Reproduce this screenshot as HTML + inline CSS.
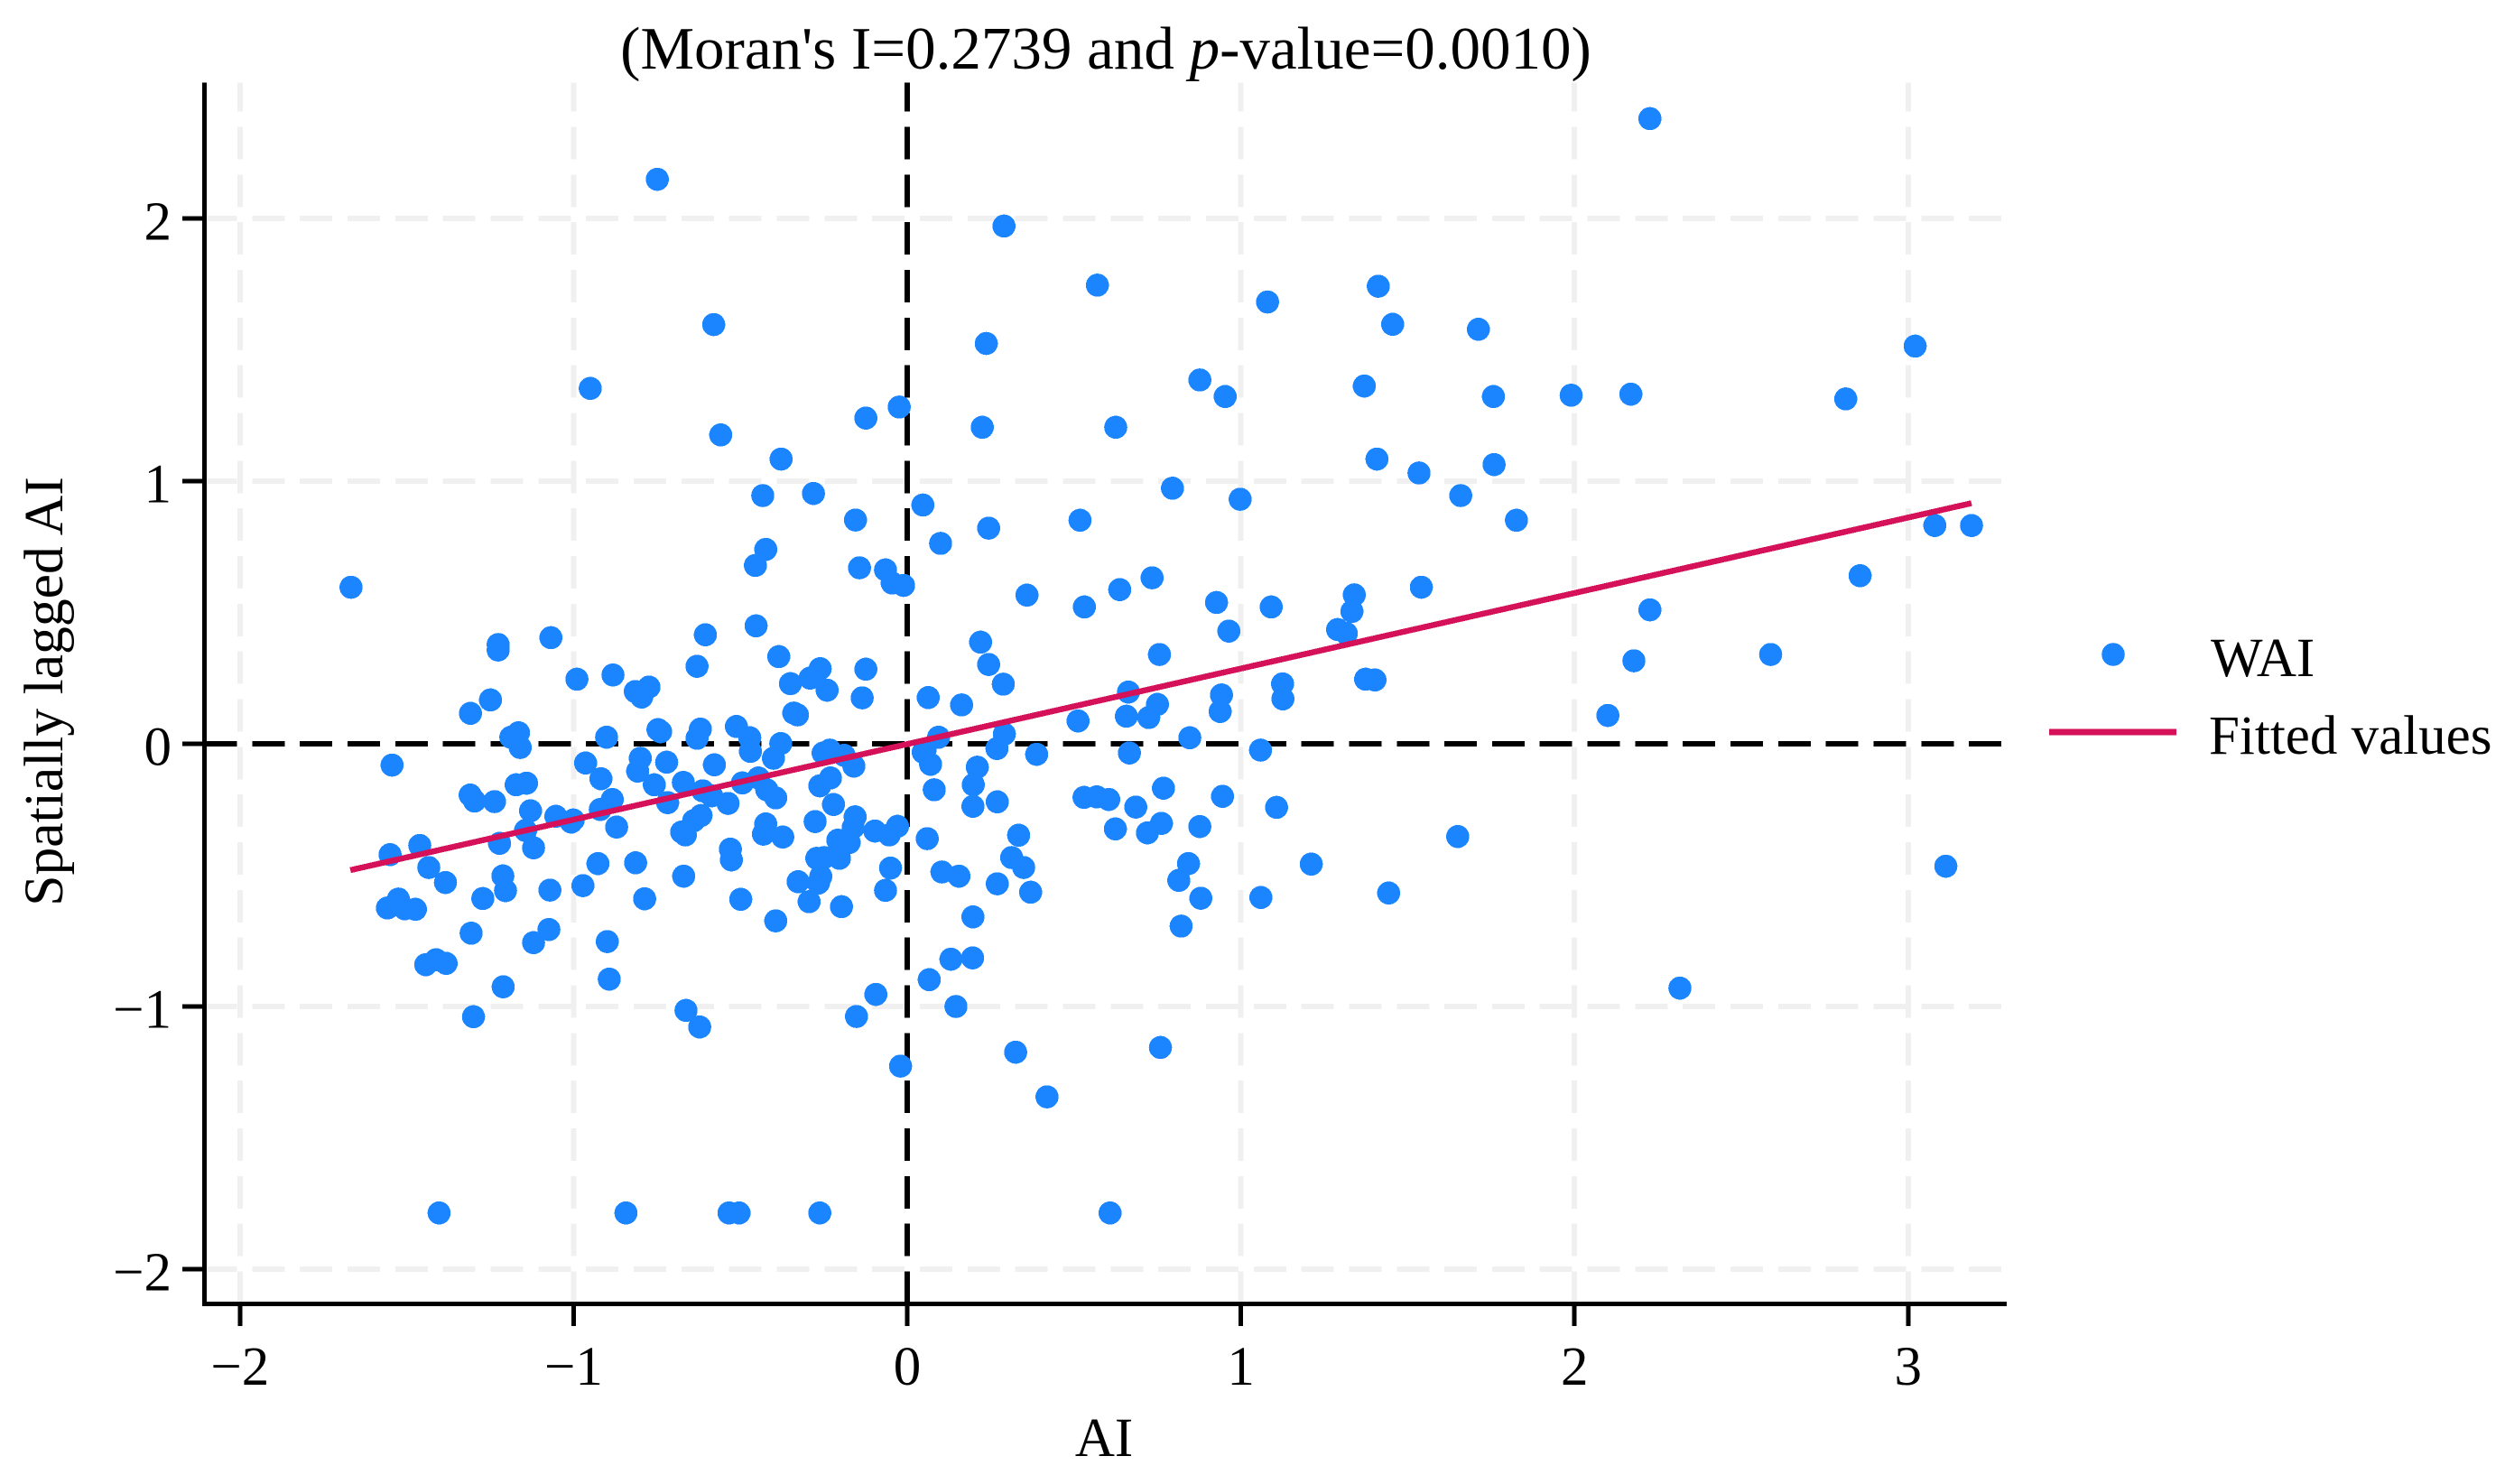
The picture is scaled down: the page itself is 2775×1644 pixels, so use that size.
<!DOCTYPE html>
<html lang="en">
<head>
<meta charset="utf-8">
<title>Moran scatter plot</title>
<style>
  html, body { margin: 0; padding: 0; background: #fff; }
  svg { display: block; font-family: "Liberation Serif", "Times New Roman", serif; }
  text { fill: #000; font-size: 61px; }
  line, circle { shape-rendering: crispEdges; }
</style>
</head>
<body>
<svg id="chart" xmlns="http://www.w3.org/2000/svg" width="2775" height="1644" viewBox="0 0 2775 1644">
  <rect width="2775" height="1644" fill="#fff"/>
  <g id="grid"></g>
  <g id="refs"></g>
  <g id="points"></g>
  <g id="fit"></g>
  <g id="axes"></g>
  <text x="1225" y="76" text-anchor="middle" style="font-size:67px">(Moran's I=0.2739 and <tspan font-style="italic">p</tspan>-value=0.0010)</text>
  <text x="1223" y="1613" text-anchor="middle">AI</text>
  <text transform="translate(69 766) rotate(-90)" text-anchor="middle" style="font-size:61.6px">Spatially lagged AI</text>
  <g>
    <circle cx="2341" cy="725" r="12.8" fill="#1A85FF"/>
    <text x="2449" y="749">WAI</text>
    <line x1="2270" x2="2411" y1="811" y2="811" stroke="#D41159" stroke-width="7"/>
    <text x="2447" y="835">Fitted values</text>
  </g>
</svg>
<script>
const xTicks = [-2, -1, 0, 1, 2, 3];
const yTicks = [-2, -1, 0, 1, 2];
const xTickLabels = ["\u22122", "\u22121", "0", "1", "2", "3"];
const yTickLabels = ["\u22122", "\u22121", "0", "1", "2"];
const fitX = [-1.669, 3.190];
const fitY = [-0.481, 0.916];
const aiValues = [
-1.667,-1.226,-1.226,-1.068,-0.990,-0.882,-0.774,-0.815,-0.796,-0.605,-0.630,-1.249,-1.309,-0.747,-0.739,-0.901,-0.620,-0.630,-1.165,-1.188,
-1.160,-1.544,-0.964,-0.800,-0.808,-0.721,-0.918,-0.758,-0.671,-0.613,-1.172,-1.141,-1.310,-1.297,-1.237,-0.884,-0.920,-0.718,-1.129,-1.053,
-1.001,-1.007,-0.871,-0.618,-0.640,-0.676,-0.665,-1.144,-1.222,-1.120,-1.461,-1.550,-1.434,-1.384,-1.212,-1.204,-1.272,-1.071,-0.972,-0.927,
-0.814,-0.787,-0.670,-1.525,-1.558,-1.506,-1.474,-1.307,-1.074,-1.120,-0.899,-0.893,-1.412,-1.443,-1.382,-1.211,-1.300,-1.403,-0.843,-0.663,
-0.622,0.359,-0.453,-0.385,-0.350,-0.291,-0.261,-0.240,-0.124,-0.135,0.063,0.163,0.220,0.244,0.288,-0.340,-0.329,-0.512,-0.472,-0.470,
-0.379,-0.401,-0.578,-0.252,-0.232,-0.189,-0.160,-0.230,-0.262,0.094,0.048,0.070,0.054,0.291,0.269,0.388,0.210,0.198,0.197,0.081,
0.270,-0.494,-0.446,-0.421,-0.394,-0.586,-0.537,-0.221,-0.276,-0.156,-0.162,-0.097,-0.054,-0.029,-0.424,-0.431,-0.373,-0.530,-0.527,-0.208,
-0.174,-0.203,-0.271,-0.249,0.060,-0.050,-0.065,-0.327,-0.259,-0.266,-0.294,-0.197,-0.499,-0.394,0.197,0.104,0.155,0.334,0.313,0.349,
0.270,0.370,0.131,0.196,0.066,-0.094,-0.152,0.146,-0.020,0.325,0.419,-0.534,-0.504,-0.262,0.531,0.637,0.734,0.927,0.964,1.091,
1.340,1.333,1.290,1.316,0.756,0.663,0.750,0.724,0.657,0.512,0.942,0.938,1.125,1.126,1.374,1.402,0.847,0.666,1.059,0.768,
0.945,0.530,0.568,0.604,0.685,1.107,0.624,0.762,0.720,0.877,1.211,0.843,0.814,0.880,1.060,1.443,0.821,0.759,0.608,-0.749,
-0.580,-0.950,-0.559,-0.124,-0.024,-0.378,-0.433,-0.281,-0.155,-0.424,-0.455,-0.143,-0.065,-0.045,-0.011,2.226,0.290,0.570,1.412,1.080,
1.455,1.712,0.237,0.877,0.953,1.370,1.757,1.990,2.169,0.225,0.625,1.408,1.534,1.759,1.659,1.826,0.795,0.998,0.047,0.100,
0.244,0.518,2.226,2.178,2.588,2.100,1.541,3.021,2.813,2.856,3.080,3.190,3.113,1.650,2.316
];
const laggedValues = [
0.596,0.378,0.357,0.404,0.246,0.262,0.216,0.199,0.178,0.415,0.295,0.167,0.116,0.054,0.046,0.025,0.056,0.021,0.042,0.025,
-0.014,-0.081,-0.073,-0.055,-0.104,-0.070,-0.133,-0.156,-0.147,-0.179,-0.156,-0.150,-0.195,-0.218,-0.220,-0.212,-0.250,-0.224,-0.255,-0.276,
-0.290,-0.298,-0.317,-0.273,-0.293,-0.336,-0.347,-0.330,-0.379,-0.396,-0.387,-0.422,-0.471,-0.528,-0.503,-0.559,-0.589,-0.557,-0.540,-0.456,
-0.453,-0.590,-0.504,-0.591,-0.625,-0.628,-0.630,-0.721,-0.707,-0.757,-0.753,-0.896,-0.822,-0.841,-0.836,-0.925,-1.039,-1.786,-1.786,-1.015,
-1.078,0.566,0.449,0.332,0.229,0.250,0.286,0.204,0.284,0.175,0.176,0.148,0.387,0.302,0.227,0.117,0.110,0.066,0.023,-0.029,
0.001,-0.055,-0.080,-0.035,-0.024,-0.044,-0.085,-0.130,-0.160,0.025,-0.032,-0.078,-0.021,0.037,-0.018,-0.040,-0.089,-0.156,-0.238,-0.175,
-0.221,-0.149,-0.130,-0.175,-0.206,-0.198,-0.227,-0.231,-0.296,-0.278,-0.319,-0.332,-0.347,-0.314,-0.305,-0.344,-0.355,-0.401,-0.442,-0.367,
-0.376,-0.436,-0.436,-0.433,-0.361,-0.473,-0.558,-0.525,-0.505,-0.530,-0.601,-0.620,-0.592,-0.674,-0.659,-0.488,-0.504,-0.348,-0.433,-0.471,
-0.533,-0.565,-0.820,-0.815,-0.898,-0.954,-1.038,-1.000,-1.227,-1.174,-1.344,-1.786,-1.786,-1.786,0.521,0.587,0.632,0.538,0.429,0.521,
0.567,0.504,0.435,0.420,0.340,0.197,0.150,0.100,0.105,0.087,0.186,0.123,0.228,0.171,0.246,0.243,0.023,-0.035,-0.024,-0.169,
-0.200,-0.204,-0.202,-0.212,-0.241,-0.242,-0.324,-0.303,-0.339,-0.315,-0.458,-0.456,-0.520,-0.588,-0.585,-0.568,-0.694,-1.156,-1.786,2.149,
1.596,1.353,1.176,1.240,1.282,1.084,0.945,0.953,0.852,0.740,0.679,0.670,0.662,0.612,0.603,2.380,1.971,1.746,1.742,1.682,
1.597,1.578,1.524,1.385,1.322,1.362,1.322,1.327,1.331,1.205,1.205,1.084,1.031,1.063,0.945,0.851,0.973,0.931,0.909,0.763,
0.821,0.851,0.510,0.316,0.340,0.108,0.596,1.514,1.313,0.640,0.831,0.831,-0.466,-0.353,-0.930
];

const NS = "http://www.w3.org/2000/svg";
const plotLeft = 226.5, plotRight = 2223, plotTop = 91.5, plotBottom = 1444.5;
const xScale = v => 1005 + 369.6 * v;
const yScale = v => 824 - 291 * v;
const dash = "36 16.83";

function make(parent, tag, attrs, text) {
  const el = document.createElementNS(NS, tag);
  for (const k in attrs) el.setAttribute(k, attrs[k]);
  if (text !== undefined) el.textContent = text;
  parent.appendChild(el);
  return el;
}

const gridG = document.getElementById("grid");
const refsG = document.getElementById("refs");
const pointsG = document.getElementById("points");
const fitG = document.getElementById("fit");
const axesG = document.getElementById("axes");

yTicks.forEach(t => {
  const el = make(gridG, "line", {x1: plotLeft, x2: plotRight, y1: yScale(t), y2: yScale(t), stroke: "#f0f0f0", "stroke-width": 6, "stroke-dasharray": dash});
  
  
});
xTicks.forEach(t => {
  const el = make(gridG, "line", {x1: xScale(t), x2: xScale(t), y1: plotBottom, y2: plotTop, stroke: "#f0f0f0", "stroke-width": 6, "stroke-dasharray": dash});
  
  
});

const hRef = make(refsG, "line", {x1: plotLeft, x2: plotRight, y1: yScale(0), y2: yScale(0), stroke: "#000", "stroke-width": 6, "stroke-dasharray": dash});


const vRef = make(refsG, "line", {x1: xScale(0), x2: xScale(0), y1: plotBottom, y2: plotTop, stroke: "#000", "stroke-width": 6, "stroke-dasharray": dash});



aiValues.forEach((v, i) => {
  const el = make(pointsG, "circle", {cx: xScale(v), cy: yScale(laggedValues[i]), r: 12.8, fill: "#1A85FF"});
  
  
});

const fitLine = make(fitG, "line", {x1: xScale(fitX[0]), y1: yScale(fitY[0]), x2: xScale(fitX[1]), y2: yScale(fitY[1]), stroke: "#D41159", "stroke-width": 6.5});



const yAxisLine = make(axesG, "line", {x1: plotLeft, x2: plotLeft, y1: plotTop, y2: plotBottom + 2.5, stroke: "#000", "stroke-width": 5});


const xAxisLine = make(axesG, "line", {x1: plotLeft - 2.5, x2: plotRight, y1: plotBottom, y2: plotBottom, stroke: "#000", "stroke-width": 5});



xTicks.forEach((t, i) => {
  const tick = make(axesG, "line", {x1: xScale(t), x2: xScale(t), y1: plotBottom, y2: 1469, stroke: "#000", "stroke-width": 5});
  
  
  const lab = make(axesG, "text", {x: xScale(t), y: 1534, "text-anchor": "middle"}, xTickLabels[i]);
  
  
});
yTicks.forEach((t, i) => {
  const tick = make(axesG, "line", {x1: 202, x2: plotLeft, y1: yScale(t), y2: yScale(t), stroke: "#000", "stroke-width": 5});
  
  
  const lab = make(axesG, "text", {x: 190, y: yScale(t) + 23.5, "text-anchor": "end"}, yTickLabels[i]);
  
  
});
</script>
</body>
</html>
